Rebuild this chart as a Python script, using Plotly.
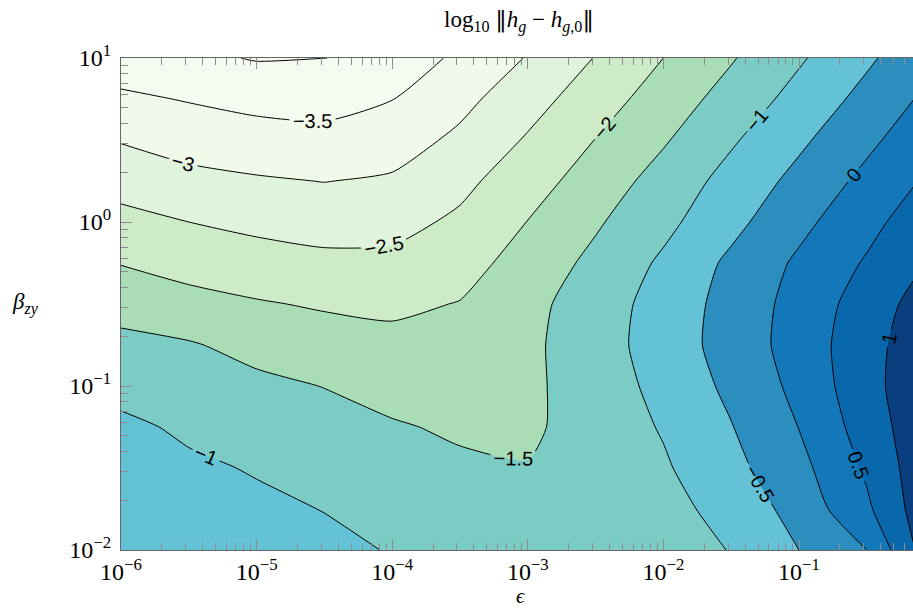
import plotly.graph_objects as go

# grid of log10(epsilon) and log10(beta_zy)
log_eps = [-6.0, -5.5, -5.0, -4.5, -4.0, -3.5, -3.0, -2.5, -2.0, -1.5, -1.0, -0.5, 0.0]
log_beta = [-2.0, -1.75, -1.5, -1.25, -1.0, -0.75, -0.5, -0.25, 0.0, 0.25, 0.5, 0.75, 1.0]

# log10 ||h_g - h_g,0|| (rows follow log_beta, bottom to top)
z_rows = [
    [-0.60, -0.70, -0.81, -0.91, -1.02, -1.15, -1.22, -1.20, -1.12, -0.99, -0.50, 0.00, 1.40],
    [-0.68, -0.81, -0.92, -1.01, -1.17, -1.29, -1.35, -1.26, -1.15, -0.84, -0.31, 0.41, 1.45],
    [-0.78, -0.93, -1.03, -1.18, -1.31, -1.43, -1.48, -1.30, -1.06, -0.64, -0.15, 0.58, 1.45],
    [-0.91, -1.07, -1.22, -1.34, -1.46, -1.56, -1.58, -1.29, -0.96, -0.52, 0.01, 0.73, 1.45],
    [-1.14, -1.27, -1.40, -1.51, -1.65, -1.70, -1.60, -1.25, -0.86, -0.39, 0.13, 0.83, 1.45],
    [-1.38, -1.46, -1.64, -1.78, -1.86, -1.83, -1.60, -1.22, -0.77, -0.30, 0.21, 0.82, 1.40],
    [-1.67, -1.83, -1.96, -2.05, -2.10, -1.98, -1.64, -1.25, -0.80, -0.32, 0.18, 0.73, 1.30],
    [-2.02, -2.19, -2.29, -2.38, -2.38, -2.20, -1.79, -1.38, -0.92, -0.40, 0.08, 0.55, 1.07],
    [-2.35, -2.50, -2.62, -2.70, -2.66, -2.41, -1.99, -1.56, -1.13, -0.64, -0.13, 0.35, 0.86],
    [-2.69, -2.86, -2.95, -3.01, -2.94, -2.63, -2.21, -1.77, -1.31, -0.83, -0.36, 0.13, 0.62],
    [-3.03, -3.20, -3.29, -3.34, -3.22, -2.90, -2.45, -1.99, -1.55, -1.06, -0.59, -0.11, 0.38],
    [-3.41, -3.53, -3.65, -3.69, -3.51, -3.14, -2.70, -2.23, -1.77, -1.31, -0.83, -0.35, 0.15],
    [-3.78, -3.90, -4.03, -4.01, -3.75, -3.42, -2.97, -2.48, -2.00, -1.54, -1.06, -0.58, -0.09],
]

band_colors = ["#f7fcf0", "#f4fbef", "#f0f9ea", "#e0f3dc", "#ccebc6", "#a9ddb6",
               "#7bccc4", "#63c2d5", "#2c8ebf", "#1278b9", "#0868ab", "#093f7f"]

x_tick_vals = [1e-6, 1e-5, 1e-4, 1e-3, 1e-2, 1e-1]
x_tick_text = ["10<sup>−6</sup>", "10<sup>−5</sup>", "10<sup>−4</sup>",
               "10<sup>−3</sup>", "10<sup>−2</sup>", "10<sup>−1</sup>"]
y_tick_vals = [1e-2, 1e-1, 1e0, 1e1]
y_tick_text = ["10<sup>−2</sup>", "10<sup>−1</sup>", "10<sup>0</sup>", "10<sup>1</sup>"]

eps = [10 ** u for u in log_eps]
beta = [10 ** v for v in log_beta]

n = len(band_colors)
colorscale = []
for k, col in enumerate(band_colors):
    colorscale.append([k / n, col])
    colorscale.append([(k + 1) / n, col])

minor_x = [m * 10 ** e for e in range(-6, 0) for m in range(2, 10)]
minor_y = [m * 10 ** e for e in range(-2, 1) for m in range(2, 10)]

fig = go.Figure()
fig.add_trace(go.Contour(
    x=eps, y=beta, z=z_rows,
    colorscale=colorscale,
    showscale=False,
    contours=dict(start=-4, end=1, size=0.5, coloring="fill", showlabels=True,
                  labelfont=dict(family="Liberation Sans, Arial, sans-serif", size=20, color="black")),
    line=dict(color="black", width=1, smoothing=0.6),
    hoverinfo="skip",
))

serif = "Liberation Serif, DejaVu Serif, serif"
bar = "<span style='font-family:DejaVu Serif'>‖</span>"
fig.update_layout(
    width=913, height=608,
    margin=dict(l=121, r=0, t=58, b=58),
    paper_bgcolor="white", plot_bgcolor="white",
    showlegend=False,
    xaxis=dict(type="log", range=[-6, -6 + 792 / 135.6], showgrid=False, zeroline=False,
               tickmode="array", tickvals=x_tick_vals, ticktext=x_tick_text,
               ticks="inside", ticklen=11, tickcolor="#8c8c8c", tickwidth=1,
               showline=True, linecolor="#666666", linewidth=1.3, mirror="ticks",
               minor=dict(tickvals=minor_x, ticks="inside", ticklen=7, tickcolor="#8c8c8c", showgrid=False),
               ticklabelstandoff=0,
               tickfont=dict(family=serif, size=24, color="black")),
    yaxis=dict(type="log", range=[-2, 1], showgrid=False, zeroline=False,
               tickmode="array", tickvals=y_tick_vals, ticktext=y_tick_text,
               ticks="inside", ticklen=11, tickcolor="#8c8c8c", tickwidth=1,
               showline=True, linecolor="#666666", linewidth=1.3,
               minor=dict(tickvals=minor_y, ticks="inside", ticklen=7, tickcolor="#8c8c8c", showgrid=False),
               ticklabelstandoff=4,
               tickfont=dict(family=serif, size=24, color="black")),
    annotations=[
        dict(text="log<sub>10</sub> " + bar + "<i>h<sub>g</sub></i> − <i>h</i><sub><i>g</i>,0</sub>" + bar,
             xref="paper", yref="paper", x=(519 - 121) / 792, y=(550 - 21) / 492,
             xanchor="center", yanchor="middle",
             showarrow=False, font=dict(family=serif, size=23, color="black")),
        dict(text="<i>β</i><sub><i>zy</i></sub>", xref="paper", yref="paper",
             x=(25 - 121) / 792, y=(550 - 303) / 492, xanchor="center", yanchor="middle",
             showarrow=False, font=dict(family=serif, size=23, color="black")),
        dict(text="<i>ϵ</i>", xref="paper", yref="paper", x=(521 - 121) / 792, y=(550 - 596) / 492,
             xanchor="center", yanchor="middle",
             showarrow=False, font=dict(family=serif, size=21, color="black")),
    ],
)

fig.write_html("out.html", config={"displayModeBar": False},
               post_script="document.body.style.margin='0';document.body.style.overflow='hidden';")
